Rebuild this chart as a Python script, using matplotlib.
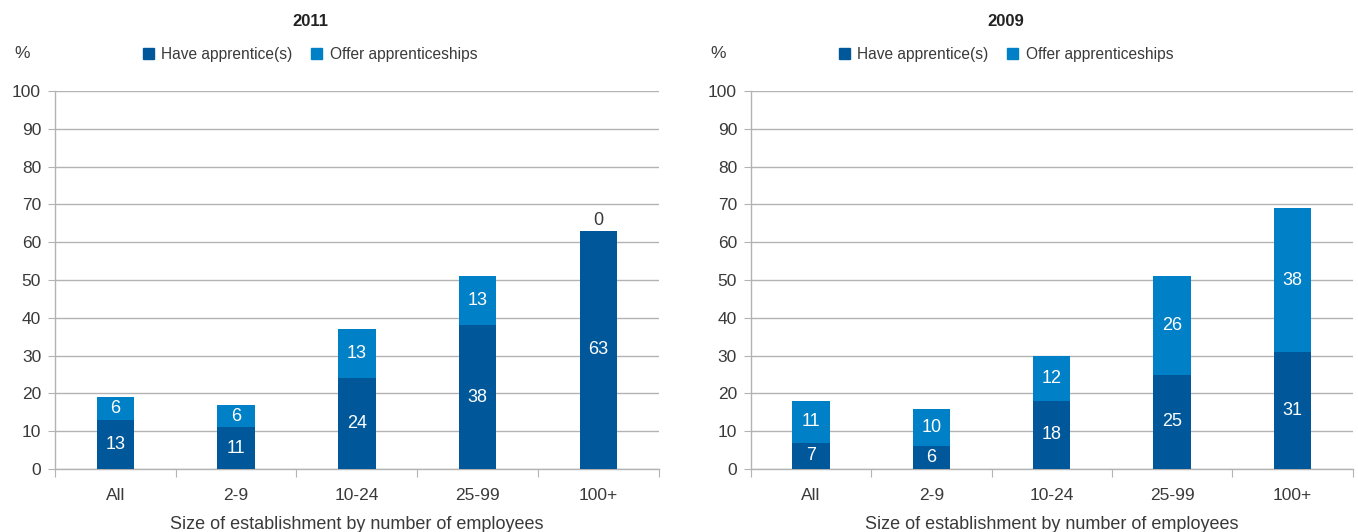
import numpy as np
import matplotlib.pyplot as plt

plt.rcParams['font.family'] = ['Liberation Sans', 'DejaVu Sans']

categories = ["All", "2-9", "10-24", "25-99", "100+"]
have_2011 = [13, 11, 24, 38, 63]
offer_2011 = [6, 6, 13, 13, 0]
have_2009 = [7, 6, 18, 25, 31]
offer_2009 = [11, 10, 12, 26, 38]

dark = "#00589a"
light = "#0080c6"
grid_c = "#b3b3b3"
text_c = "#3a3a3a"

fig = plt.figure(figsize=(13.58, 5.32), dpi=100)
ax1 = fig.add_axes([0.0405, 0.1184, 0.4445, 0.7105])
ax2 = fig.add_axes([0.5530, 0.1184, 0.4430, 0.7105])


def draw(ax, have, offer):
    x = np.arange(len(categories))
    ax.bar(x, have, width=0.31, color=dark, zorder=3)
    ax.bar(x, offer, width=0.31, bottom=have, color=light, zorder=3)
    for i in range(len(x)):
        ax.text(x[i], have[i] / 2, str(have[i]), ha="center", va="center",
                color="white", fontsize=13, zorder=4)
        if offer[i] > 0:
            ax.text(x[i], have[i] + offer[i] / 2, str(offer[i]), ha="center",
                    va="center", color="white", fontsize=13, zorder=4)
        else:
            ax.text(x[i], have[i] + 0.6, str(offer[i]), ha="center",
                    va="bottom", color=text_c, fontsize=13, zorder=4)
    ax.set_xlim(-0.5, len(x) - 0.5)
    ax.set_ylim(0, 100)
    ax.set_yticks(range(0, 101, 10))
    ax.yaxis.grid(True, color=grid_c, linewidth=1, zorder=0)
    ax.set_axisbelow(True)
    for s in ["top", "right"]:
        ax.spines[s].set_visible(False)
    for s in ["left", "bottom"]:
        ax.spines[s].set_color(grid_c)
        ax.spines[s].set_linewidth(1)
    # category ticks sit between bars
    ax.set_xticks(np.arange(-0.5, len(x)), minor=False)
    ax.set_xticklabels([])
    ax.set_xticks(x, minor=True)
    ax.set_xticklabels(categories, minor=True)
    ax.tick_params(axis="x", which="major", length=6, color=grid_c)
    ax.tick_params(axis="x", which="minor", length=0, pad=14,
                   labelsize=12.5, labelcolor=text_c)
    ax.tick_params(axis="y", length=5, color=grid_c, pad=5,
                   labelsize=12.5, labelcolor=text_c)
    ax.set_xlabel("Size of establishment by number of employees",
                  fontsize=13, color=text_c, labelpad=9)


draw(ax1, have_2011, offer_2011)
draw(ax2, have_2009, offer_2009)

# headers and legends
handles = [plt.Rectangle((0, 0), 1, 1, color=dark),
           plt.Rectangle((0, 0), 1, 1, color=light)]
names = ["Have apprentice(s)", "Offer apprenticeships"]
for cx, title, px in [(310, "2011", 22), (1006, "2009", 718)]:
    fig.text(cx / 1358, 1 - 22 / 532, title, ha="center", va="center",
             fontsize=12, fontweight="bold", color="#222222")
    fig.text(px / 1358, 1 - 54 / 532, "%", ha="center", va="center",
             fontsize=12.5, color=text_c)
    fig.legend(handles, names, loc="center", ncol=2,
               bbox_to_anchor=(cx / 1358, 1 - 54 / 532), frameon=False,
               handlelength=0.7, handleheight=0.7,
               handletextpad=0.5, columnspacing=1.2, labelcolor=text_c,
               prop={"size": 11.2})

fig.savefig("out.png", dpi=100)
